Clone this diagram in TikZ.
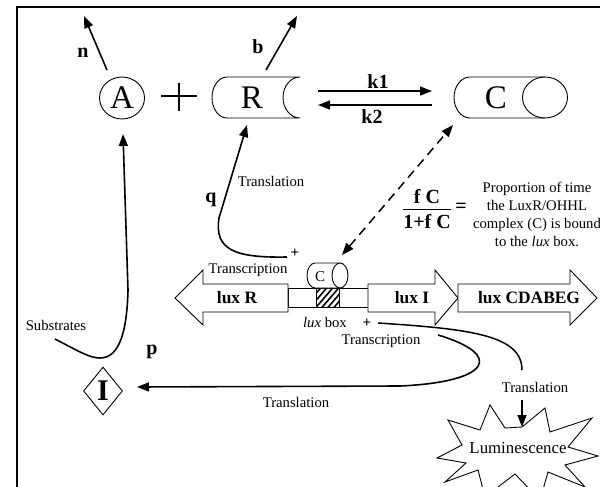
\documentclass[tikz,border=0pt]{standalone}
\usepackage{fontspec}
\setmainfont{Liberation Serif}
\usetikzlibrary{arrows.meta,shapes.geometric}
\begin{document}
\begin{tikzpicture}[x=1pt,y=-1pt,
  arr/.style={line width=1.6pt,-{Triangle[length=12pt,width=9pt]}},
  outl/.style={line width=0.9pt},
  lbl/.style={font=\fontsize{14.7}{18}\selectfont, inner sep=0pt},
  bl/.style={font=\fontsize{20}{22}\selectfont\bfseries, inner sep=0pt},
  big/.style={font=\fontsize{33}{36}\selectfont, inner sep=0pt},
  gene/.style={font=\fontsize{17.4}{20}\selectfont\bfseries, inner sep=0pt},
  genebox/.style={draw, line width=0.9pt, fill=white},
  plussign/.style={font=\fontsize{15}{15}\selectfont\bfseries, inner sep=0pt}]
\useasboundingbox (0,0) rectangle (600,487);
% frame
\draw[line width=2pt] (16.5,487) -- (16.5,7.5) -- (600,7.5);
% A
\node[ellipse, draw, outl, minimum width=45pt, minimum height=42pt, inner sep=0pt, big] (A) at (122,98) {A};
% plus
\draw[line width=1.2pt] (161,96) -- (197,96) (179,83) -- (179,111);
% R shape
\draw[outl] (227,77) -- (300,77) .. controls (290.6,77) and (283,86.2) .. (283,97.5)
  .. controls (283,108.8) and (290.6,118) .. (300,118) -- (227,118)
  .. controls (218.7,118) and (212,108.8) .. (212,97.5)
  .. controls (212,86.2) and (218.7,77) .. (227,77);
\node[big] (R) at (252,98) {R};
% C complex
\draw[outl] (545,77) -- (470,77) .. controls (461.2,77) and (454,86.2) .. (454,97.5)
  .. controls (454,108.8) and (461.2,118) .. (470,118) -- (545,118);
\draw[outl] (545,97.5) ellipse [x radius=22.5, y radius=20.5];
\node[big] (C) at (496,98) {C};
% coordinates
\coordinate (k1s) at (318,91); \coordinate (k1e) at (432,91);
\coordinate (k2s) at (432,105); \coordinate (k2e) at (318,105);
\coordinate (ns) at (107,70); \coordinate (ne) at (84,16);
\coordinate (bs) at (266,70); \coordinate (be) at (297,16);
\coordinate (Rbot) at (247,125); \coordinate (qs) at (287,257);
\coordinate (Abot) at (123,134); \coordinate (ss) at (55,339);
\coordinate (Cdn) at (453,125); \coordinate (cbox) at (342,255);
\draw[arr] (k1s) -- (k1e);
\draw[arr] (k2s) -- (k2e);
\draw[arr] (ns) -- (ne);
\draw[arr] (bs) -- (be);
\node[bl] (k1) at (378,82) {k1};
\node[bl] (k2) at (372,117) {k2};
\node[bl] (n) at (83,53) {n};
\node[bl] (b) at (258,47) {b};
% q curve
\draw[arr] (qs) .. controls (235,258) and (214,250) .. (219,218) -- (Rbot);
\node[bl] (q) at (211,200) {q};
\node[lbl] (tr1) at (271,181) {Translation};
\node[plussign] (plus1) at (295,253) {+};
% substrates curve
\draw[arr] (ss) .. controls (80,352) and (90,358) .. (100,358)
  .. controls (120,358) and (127,330) .. (128,290) -- (Abot);
\node[lbl] (sub) at (56,325) {Substrates};
% dashed
\draw[line width=1.5pt, dash pattern=on 9pt off 6pt, {Triangle[length=12pt,width=9pt]}-{Triangle[length=12pt,width=9pt]}] (cbox) -- (Cdn);
% fraction
\node[bl] (num) at (427,197) {f C};
\draw[line width=1.2pt] (403,209.5) -- (451,209.5);
\node[bl] (den) at (427,222) {1+f C};
\node[bl] (eq) at (461,208) {=};
\node[lbl, align=center] (prop) at (537,214) {Proportion of time\\the LuxR/OHHL\\complex (C) is bound\\to the \textit{lux} box.};
% genes
\draw[genebox] (288,288) rectangle (368,307);
\begin{scope}
\clip (316,288) rectangle (339,307);
\foreach \i in {0,...,7} \draw[line width=1.6pt] (300+\i*6,312) -- (325+\i*6,283);
\end{scope}
\draw[line width=0.9pt] (316,288) rectangle (339,307);
\draw[genebox] (175,298) -- (203,270) -- (203,284) -- (288,284) -- (288,312) -- (203,312) -- (203,325) -- cycle;
\node[gene] (luxR) at (237,298) {lux R};
\draw[genebox] (368,284) -- (435,284) -- (435,270) -- (458,298) -- (435,325) -- (435,312) -- (368,312) -- cycle;
\node[gene] (luxI) at (412,298) {lux I};
\draw[genebox] (458,284) -- (570,284) -- (570,270) -- (597,298) -- (570,325) -- (570,312) -- (458,312) -- cycle;
\node[gene] (luxC) at (529,298) {lux CDABEG};
% small C cylinder
\draw[outl, fill=white] (340,263) -- (315,263) .. controls (310.6,263) and (307,268.6) .. (307,275.5)
  .. controls (307,282.4) and (310.6,288) .. (315,288) -- (340,288);
\draw[outl, fill=white] (340,275.5) ellipse [x radius=8, y radius=12.5];
\node[font=\fontsize{15}{15}\selectfont, inner sep=0pt] (cs) at (320,277) {C};
\node[lbl] (trc1) at (248,270) {Transcription};
\node[lbl] (luxbox) at (325,322) {\textit{lux} box};
\node[plussign] (plus2) at (367,323) {+};
\node[lbl] (trc2) at (381,341) {Transcription};
% I diamond
\node[diamond, draw, outl, minimum width=39pt, minimum height=48pt, inner sep=0pt, font=\fontsize{30}{30}\selectfont\bfseries] (I) at (103,391) {I};
\node[bl] (p) at (152,352) {p};
% translation curves
\coordinate (l1s) at (378,323); \coordinate (l1m) at (522,370);
\coordinate (l1a) at (522,400); \coordinate (star) at (522,427);
\draw[line width=1.5pt] (l1s) .. controls (470,329) and (522,335) .. (l1m);
\draw[arr] (l1a) -- (star);
\node[lbl] (tr3) at (535,387) {Translation};
\coordinate (l2s) at (438,335); \coordinate (Iright) at (137,387);
\draw[arr] (l2s) .. controls (505,355) and (490,382) .. (400,386) -- (Iright);
\node[lbl] (tr2) at (296,402) {Translation};
% star
\draw[line width=0.9pt] (437,458) -- (462,445) -- (448,420) -- (480,430) -- (490,405) -- (505,428)
  -- (522,427) -- (545,408) -- (550,432) -- (592,418) -- (568,447) -- (598,456) -- (565,465)
  -- (585,487) -- (548,472) -- (540,500) -- (515,474) -- (485,497) -- (478,470) -- (445,482) -- (466,463) -- cycle;
\node[font=\fontsize{16.8}{18}\selectfont, inner sep=0pt] (lum) at (518,448) {Luminescence};
\end{tikzpicture}
\end{document}
